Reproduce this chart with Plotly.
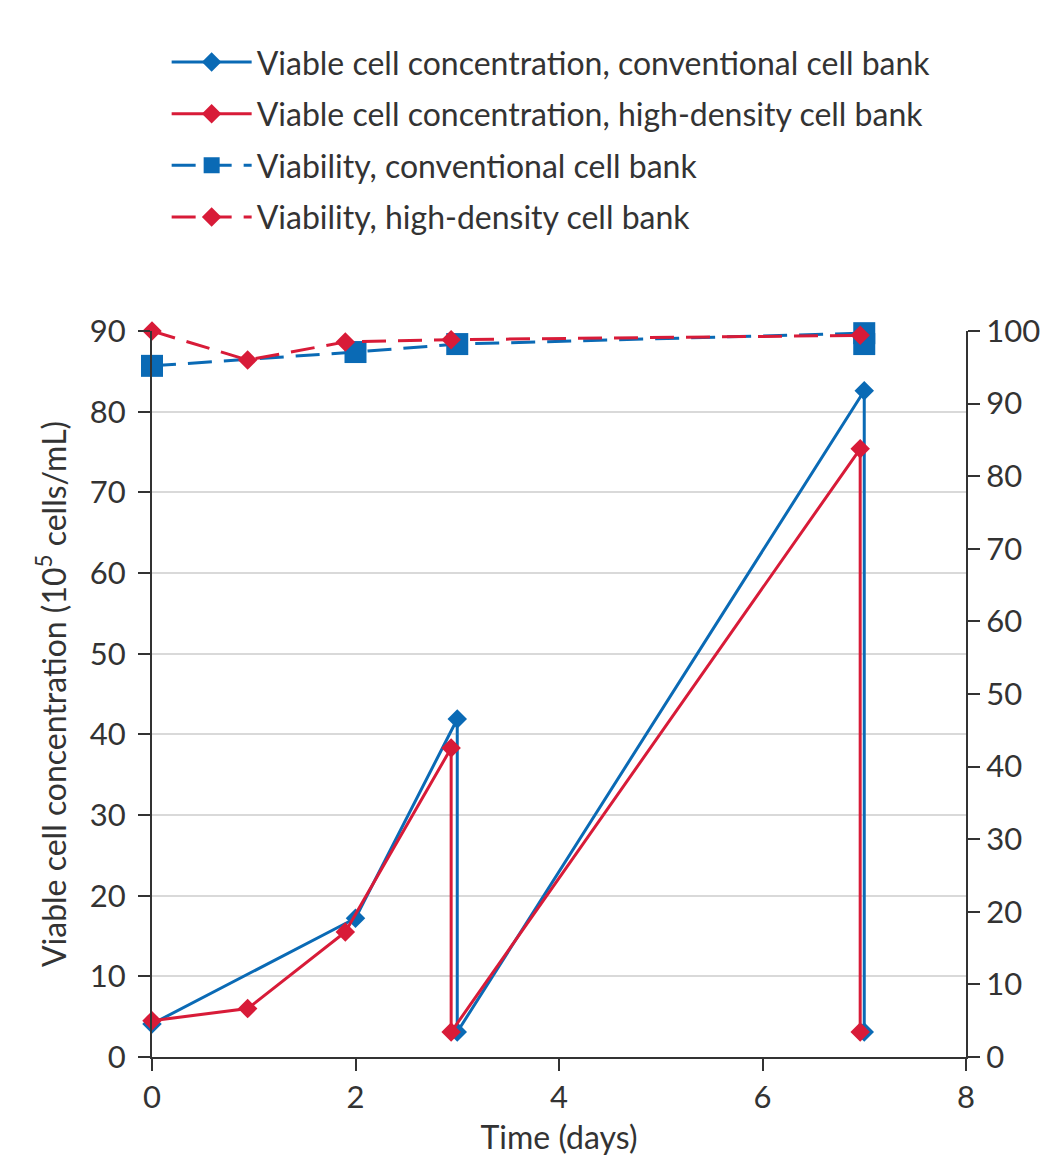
import plotly.graph_objects as go

# Viable cell concentration (10^5 cells/mL), left axis
vcc_conv_x = [0, 2, 3, 3, 7, 7]
vcc_conv_y = [4.1, 17.2, 41.9, 3.1, 82.6, 3.1]
vcc_hd_x = [0, 0.94, 1.9, 2.94, 2.94, 6.96, 6.96]
vcc_hd_y = [4.5, 6.0, 15.5, 38.3, 3.1, 75.4, 3.1]

# Viability (%), right axis
via_conv_x = [0, 2, 3, 7, 7]
via_conv_y = [95.2, 97.1, 98.2, 99.7, 98.2]
via_hd_x = [0, 0.94, 1.9, 2.94, 6.96]
via_hd_y = [100.0, 96.0, 98.5, 98.8, 99.4]

names = [
    "Viable cell concentration, conventional cell bank",
    "Viable cell concentration, high-density cell bank",
    "Viability, conventional cell bank",
    "Viability, high-density cell bank",
]

BLUE = "#0a6ab5"
RED = "#d81b38"
TXT = "#333333"
FONT = "Lato"

fig = go.Figure()
fig.add_trace(go.Scatter(x=vcc_conv_x, y=vcc_conv_y, name=names[0], mode="lines+markers",
                         legendgroup="a",
                         line=dict(color=BLUE, width=3),
                         marker=dict(symbol="diamond", size=15, color=BLUE),
                         cliponaxis=False))
fig.add_trace(go.Scatter(x=vcc_hd_x, y=vcc_hd_y, name=names[1], mode="lines+markers",
                         legendgroup="b",
                         line=dict(color=RED, width=3),
                         marker=dict(symbol="diamond", size=15, color=RED),
                         cliponaxis=False))
fig.add_trace(go.Scatter(x=via_conv_x, y=via_conv_y, name=names[2], mode="lines+markers",
                         yaxis="y2", legendgroup="c",
                         line=dict(color=BLUE, width=3, dash="24px,12px"),
                         marker=dict(symbol="square", size=22, color=BLUE),
                         cliponaxis=False))
fig.add_trace(go.Scatter(x=via_hd_x, y=via_hd_y, name=names[3], mode="lines+markers",
                         yaxis="y2", legendgroup="d",
                         line=dict(color=RED, width=3, dash="24px,12px"),
                         marker=dict(symbol="diamond", size=15, color=RED),
                         cliponaxis=False))

axis_common = dict(
    showline=True, linecolor="#333333", linewidth=2,
    ticks="outside", ticklen=12, tickwidth=2, tickcolor="#333333",
    tickfont=dict(family=FONT, size=31, color=TXT),
    zeroline=False,
)

fig.update_layout(
    width=1056, height=1164,
    margin=dict(l=152, r=90, t=331, b=107),
    plot_bgcolor="white", paper_bgcolor="white",
    font=dict(family=FONT, color=TXT),
    showlegend=True,
    legend=dict(
        x=0.018, y=1.408, xanchor="left", yanchor="top",
        font=dict(family=FONT, size=32, color=TXT),
        tracegroupgap=7, itemwidth=80,
        bgcolor="rgba(0,0,0,0)",
    ),
    xaxis=dict(
        range=[0, 8], tickvals=[0, 2, 4, 6, 8], showgrid=False,
        title=dict(text="Time (days)", font=dict(family=FONT, size=32, color=TXT), standoff=12),
        **axis_common,
    ),
    yaxis=dict(
        range=[0, 90], dtick=10, showgrid=True, gridcolor="#d9d9d9", gridwidth=1.5,
        ticklabelstandoff=6,
        title=dict(text="Viable cell concentration (10<sup>5</sup> cells/mL)",
                   font=dict(family=FONT, size=32, color=TXT), standoff=14),
        **axis_common,
    ),
    yaxis2=dict(
        range=[0, 100], dtick=10, overlaying="y", side="right", showgrid=False,
        **axis_common,
    ),
)

fig.write_html("out.html")
